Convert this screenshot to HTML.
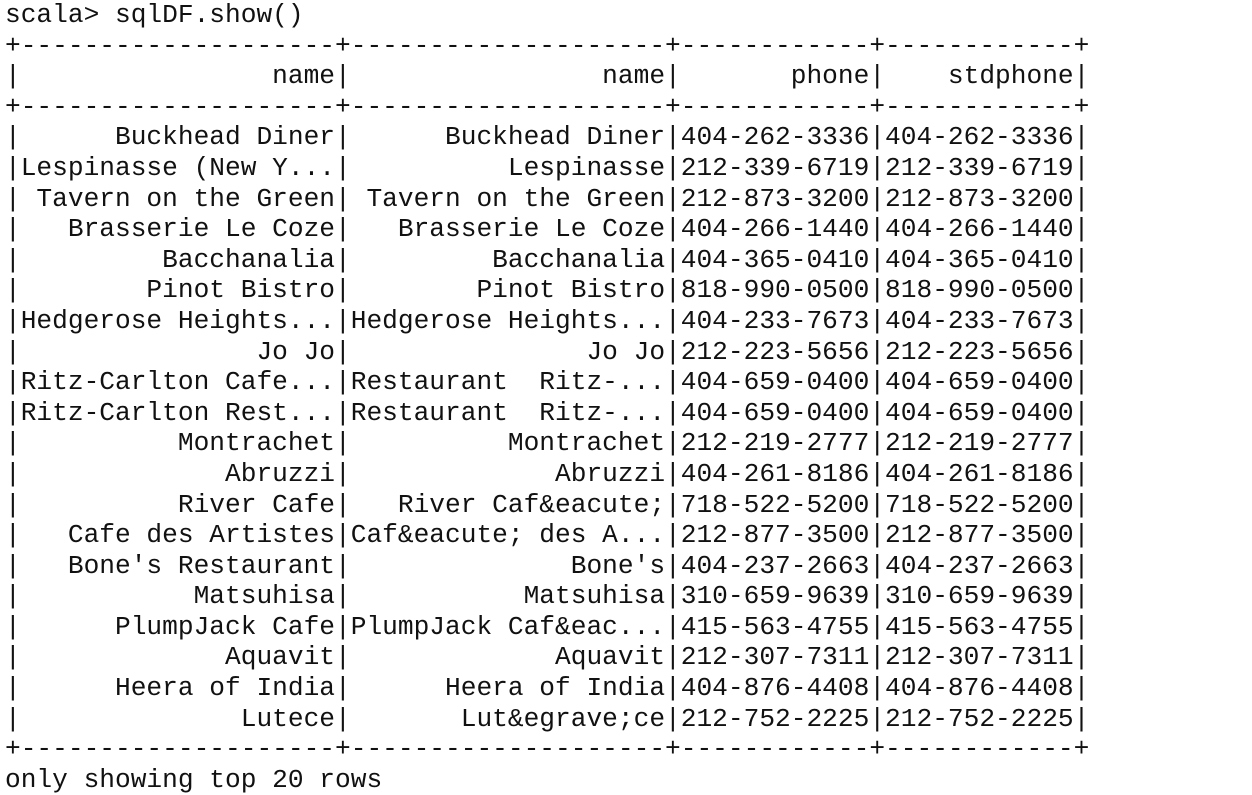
<!DOCTYPE html>
<html><head><meta charset="utf-8"><style>
html,body{margin:0;padding:0;background:#fff;width:1252px;height:794px;overflow:hidden}
pre{margin:0;position:absolute;left:5px;top:0px;font-family:"Liberation Mono","DejaVu Sans Mono",monospace;font-size:26.2px;line-height:30.6px;color:#111;letter-spacing:0}
</style></head><body><pre>scala&gt; sqlDF.show()
+--------------------+--------------------+------------+------------+
|                name|                name|       phone|    stdphone|
+--------------------+--------------------+------------+------------+
|      Buckhead Diner|      Buckhead Diner|404-262-3336|404-262-3336|
|Lespinasse (New Y...|          Lespinasse|212-339-6719|212-339-6719|
| Tavern on the Green| Tavern on the Green|212-873-3200|212-873-3200|
|   Brasserie Le Coze|   Brasserie Le Coze|404-266-1440|404-266-1440|
|         Bacchanalia|         Bacchanalia|404-365-0410|404-365-0410|
|        Pinot Bistro|        Pinot Bistro|818-990-0500|818-990-0500|
|Hedgerose Heights...|Hedgerose Heights...|404-233-7673|404-233-7673|
|               Jo Jo|               Jo Jo|212-223-5656|212-223-5656|
|Ritz-Carlton Cafe...|Restaurant  Ritz-...|404-659-0400|404-659-0400|
|Ritz-Carlton Rest...|Restaurant  Ritz-...|404-659-0400|404-659-0400|
|          Montrachet|          Montrachet|212-219-2777|212-219-2777|
|             Abruzzi|             Abruzzi|404-261-8186|404-261-8186|
|          River Cafe|   River Caf&amp;eacute;|718-522-5200|718-522-5200|
|   Cafe des Artistes|Caf&amp;eacute; des A...|212-877-3500|212-877-3500|
|   Bone's Restaurant|              Bone's|404-237-2663|404-237-2663|
|           Matsuhisa|           Matsuhisa|310-659-9639|310-659-9639|
|      PlumpJack Cafe|PlumpJack Caf&amp;eac...|415-563-4755|415-563-4755|
|             Aquavit|             Aquavit|212-307-7311|212-307-7311|
|      Heera of India|      Heera of India|404-876-4408|404-876-4408|
|              Lutece|       Lut&amp;egrave;ce|212-752-2225|212-752-2225|
+--------------------+--------------------+------------+------------+
only showing top 20 rows</pre></body></html>
